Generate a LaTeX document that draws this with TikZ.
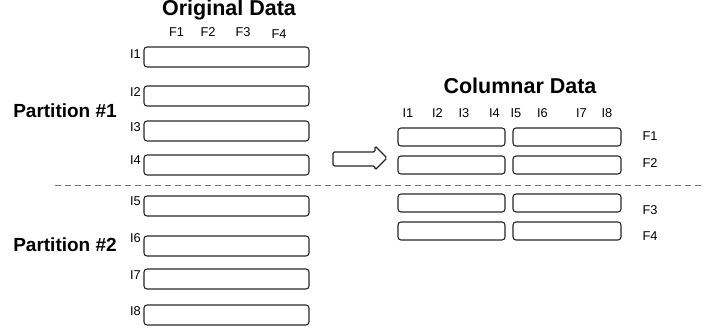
\documentclass[tikz,border=0pt]{standalone}
\usepackage{fontspec}
\setmainfont{Liberation Sans}
\begin{document}
\begin{tikzpicture}[x=1pt,y=-1pt,
  rowbox/.style={draw=black!85, line width=1.1pt, rounded corners=3pt},
  lbl/.style={font=\fontsize{12.8}{14}\selectfont, inner sep=0pt},
  ilbl/.style={lbl, anchor=north east},
  ttl/.style={font=\fontsize{21.5}{24}\selectfont\bfseries, inner sep=0pt},
  part/.style={font=\fontsize{19}{22}\selectfont\bfseries, inner sep=0pt}]
\useasboundingbox (0,0) rectangle (704,331);
% titles
\node[ttl] (t1) at (229,10) {Original Data};
\node[ttl] (t2) at (520,86) {Columnar Data};
\node[part] (p1) at (65,111) {Partition \#1};
\node[part] (p2) at (65,245) {Partition \#2};
% F labels on top of original data
\node[lbl] (f1) at (176.5,32.5) {F1};
\node[lbl] (f2) at (208,32.5) {F2};
\node[lbl] (f3) at (243,32.5) {F3};
\node[lbl] (f4) at (279,34.5) {F4};
% original rows
\foreach \i/\t in {1/47,2/86,3/121,4/155,5/196,6/236,7/269,8/305}{
  \path[rowbox] (144,\t) coordinate (o\i nw) rectangle (309,\t+20) coordinate (o\i se);
}
\foreach \i/\dy in {1/2,2/1,3/1,4/0,5/0,6/-3,7/1,8/1}{
  \node[ilbl] (li\i) at ([xshift=-3pt,yshift=-\dy pt]o\i nw) {I\i};
}
% dashed separator
\coordinate (dl) at (55,186);
\coordinate (dr) at (704,186);
\draw[black!55, line width=1pt, dash pattern=on 6pt off 4pt] (dl) -- (dr);
% arrow
\draw[black!85, line width=1.1pt, rounded corners=1.5pt]
  (333,152) -- (375,152) -- (375,146) -- (387,158) -- (375,170) -- (375,166) -- (333,166) -- cycle;
% columnar labels
\foreach \n/\x in {1/408,2/437.5,3/464,4/494.5,5/516,6/542.5,7/581.5,8/607}{
  \node[lbl] (ci\n) at (\x,113.5) {I\n};
}
% columnar boxes
\foreach \k/\t in {1/128,2/156,3/194,4/222}{
  \path[rowbox] (398,\t) rectangle (505,\t+18);
  \path[rowbox] (513,\t) rectangle (621,\t+18);
}
\node[lbl] (cf1) at (650,136) {F1};
\node[lbl] (cf2) at (650,163) {F2};
\node[lbl] (cf3) at (650,210) {F3};
\node[lbl] (cf4) at (650,236) {F4};
\end{tikzpicture}
\end{document}
